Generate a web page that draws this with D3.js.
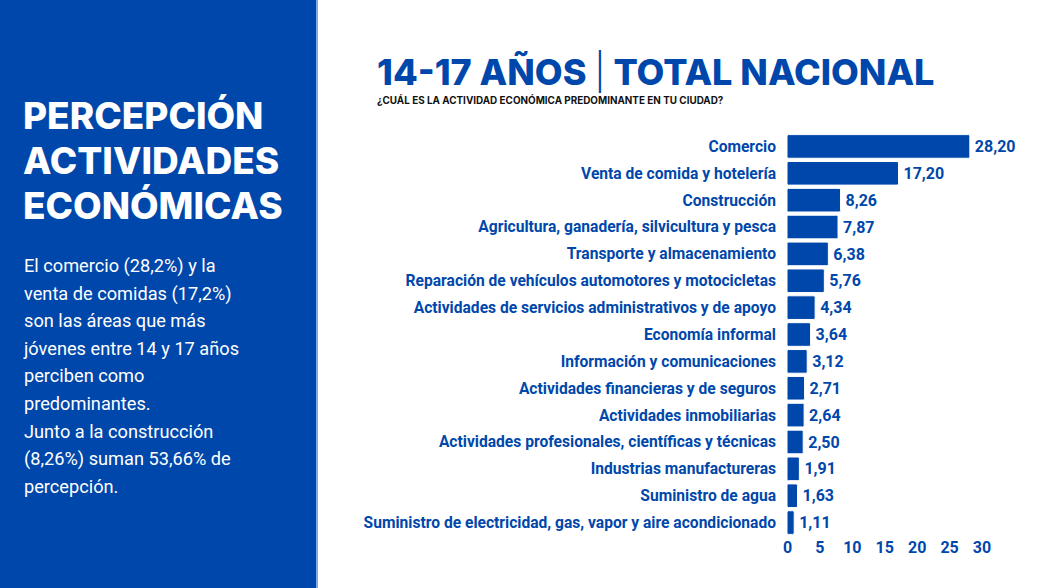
<!DOCTYPE html>
<html><head><meta charset="utf-8">
<script src="https://cdn.jsdelivr.net/npm/d3@7/dist/d3.min.js"></script>
<style>
html,body{margin:0;padding:0;background:#fff;}
svg{display:block;}
</style></head>
<body><svg id="c" width="1059" height="588"></svg>
<script>
const categories = ["Comercio","Venta de comida y hotelería","Construcción","Agricultura, ganadería, silvicultura y pesca","Transporte y almacenamiento","Reparación de vehículos automotores y motocicletas","Actividades de servicios administrativos y de apoyo","Economía informal","Información y comunicaciones","Actividades financieras y de seguros","Actividades inmobiliarias","Actividades profesionales, científicas y técnicas","Industrias manufactureras","Suministro de agua","Suministro de electricidad, gas, vapor y aire acondicionado"];
const values = [28.20,17.20,8.26,7.87,6.38,5.76,4.34,3.64,3.12,2.71,2.64,2.50,1.91,1.63,1.11];
const xTicks = [0,5,10,15,20,25,30];
const panelTitle = ["PERCEPCIÓN","ACTIVIDADES","ECONÓMICAS"];
const panelText = ["El comercio (28,2%) y la","venta de comidas (17,2%)","son las áreas que más","jóvenes entre 14 y 17 años","perciben como","predominantes.","Junto a la construcción","(8,26%) suman 53,66% de","percepción."];
const titleParts = ["14-17 AÑOS ", "|", " TOTAL NACIONAL"];
const subtitle = "¿CUÁL ES LA ACTIVIDAD ECONÓMICA PREDOMINANTE EN TU CIUDAD?";

const blue = "#0047ab";
const svg = d3.select("#c");

// left panel
svg.append("rect").attr("x",0).attr("y",0).attr("width",317).attr("height",588).attr("fill",blue);
svg.append("rect").attr("x",316).attr("y",0).attr("width",2).attr("height",588).attr("fill","#7fa8e6");
svg.selectAll("text.pt").data(panelTitle).join("text").attr("class","pt")
  .attr("x",23).attr("y",(d,i)=>129+i*45)
  .attr("fill","#fff").attr("font-family","Inter, 'Open Sans', sans-serif").attr("font-weight",800)
  .attr("font-size",37).text(d=>d);
svg.selectAll("text.pp").data(panelText).join("text").attr("class","pp")
  .attr("x",24).attr("y",(d,i)=>272+i*27.6)
  .attr("fill","#fff").attr("font-family","Roboto, 'Open Sans', sans-serif").attr("font-weight",400)
  .attr("font-size",18.2).text(d=>d);

// titles
const t = svg.append("text").attr("x",377).attr("y",85).attr("fill",blue)
  .attr("font-family","Inter, 'Open Sans', sans-serif").attr("font-weight",800).attr("font-size",36);
t.selectAll("tspan").data(titleParts).join("tspan")
  .attr("font-weight",(d,i)=>i===1?300:800).text(d=>d);
svg.append("text").attr("x",377).attr("y",104).attr("fill","#111")
  .attr("font-family","Inter, 'Open Sans', sans-serif").attr("font-weight",700).attr("font-size",9.9).text(subtitle);

// chart
const x = d3.scaleLinear().domain([0,30]).range([787,981.5]);
const y = d3.scaleBand().domain(categories).range([133,536]).paddingInner(0.12).paddingOuter(0.06);

const g = svg.append("g");
g.selectAll("rect.bar").data(values).join("rect").attr("class","bar")
  .attr("x",x(0)).attr("y",(d,i)=>y(categories[i]))
  .attr("width",d=>x(d)-x(0)).attr("height",y.bandwidth())
  .attr("rx",1.5).attr("fill",blue).attr("stroke","#fff").attr("stroke-width",1);

const lblFont = "'Liberation Sans Narrow', 'Roboto', sans-serif";
g.selectAll("text.cat").data(categories).join("text").attr("class","cat")
  .attr("x",776).attr("y",d=>y(d)+y.bandwidth()/2).attr("dy","0.35em")
  .attr("text-anchor","end").attr("fill",blue).attr("font-family",lblFont)
  .attr("font-weight",700).attr("font-size",15.6).text(d=>d);

g.selectAll("text.val").data(values).join("text").attr("class","val")
  .attr("x",d=>x(d)+5).attr("y",(d,i)=>y(categories[i])+y.bandwidth()/2).attr("dy","0.35em")
  .attr("fill",blue).attr("font-family",lblFont).attr("font-weight",700).attr("font-size",16)
  .text(d=>d.toFixed(2).replace(".",","));

const axis = d3.axisBottom(x).tickValues(xTicks).tickSize(0).tickPadding(0);
const ax = svg.append("g").attr("transform","translate(0,542)").call(axis);
ax.select(".domain").remove();
ax.selectAll("text").attr("fill",blue).attr("font-family",lblFont).attr("font-weight",700).attr("font-size",16).attr("dy","0.71em");
</script></body></html>
